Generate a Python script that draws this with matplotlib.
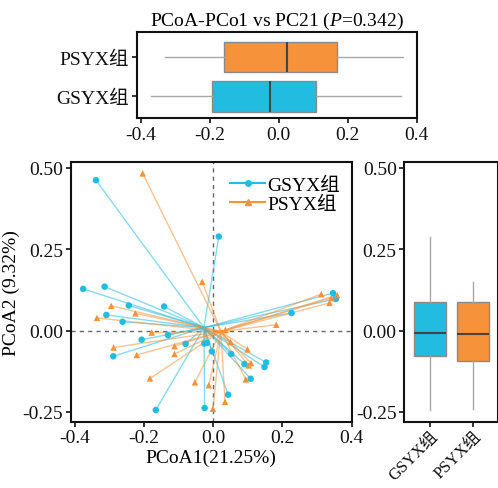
import matplotlib
matplotlib.use("Agg")
import matplotlib.pyplot as plt
from matplotlib.lines import Line2D

plt.rcParams['font.family'] = ['Liberation Serif', 'Noto Sans CJK SC']
plt.rcParams['axes.unicode_minus'] = True
plt.rcParams['mathtext.fontset'] = 'custom'
plt.rcParams['mathtext.rm'] = 'Liberation Serif'
plt.rcParams['mathtext.it'] = 'Liberation Serif:italic'

groups = ["GSYX组", "PSYX组"]
colors = {"GSYX组": "#22BCE0", "PSYX组": "#F5923A"}

gsyx_x = [-0.339, 0.016, -0.376, -0.314, -0.244, -0.142, -0.309, -0.262, 0.226, 0.346,
          0.354, -0.131, -0.207, -0.080, -0.289, -0.166, -0.025, -0.026, -0.018, -0.004,
          0.052, 0.090, 0.153, 0.148, 0.108, 0.043]
gsyx_y = [0.462, 0.289, 0.128, 0.135, 0.077, 0.074, 0.048, 0.027, 0.054, 0.115,
          0.097, -0.014, -0.028, -0.041, -0.079, -0.244, -0.238, -0.040, -0.038, -0.064,
          -0.072, -0.103, -0.098, -0.112, -0.148, -0.197]
psyx_x = [-0.204, -0.032, -0.295, -0.225, -0.336, 0.312, 0.358, 0.336, 0.341, 0.182,
          -0.178, -0.288, -0.221, -0.112, -0.112, -0.183, -0.053, -0.013, -0.001, 0.050,
          0.099, 0.109, 0.102, 0.094, 0.034, 0.035]
psyx_y = [0.483, 0.150, 0.076, 0.053, 0.039, 0.112, 0.109, 0.085, 0.100, 0.018,
          -0.006, -0.052, -0.075, -0.048, -0.072, -0.147, -0.159, -0.168, -0.240, -0.035,
          -0.058, -0.100, -0.107, -0.150, -0.219, 0.002]
centroid_gsyx = (-0.027, 0.009)
centroid_psyx = (0.022, -0.003)

# box statistics: whislo, q1, med, q3, whishi
pc1_box_gsyx = [-0.370, -0.195, -0.025, 0.107, 0.354]
pc1_box_psyx = [-0.331, -0.160, 0.025, 0.168, 0.361]
pc2_box_gsyx = [-0.245, -0.078, -0.007, 0.087, 0.286]
pc2_box_psyx = [-0.240, -0.095, -0.010, 0.089, 0.148]

title = "PCoA-PCo1 vs PC21 ($\\mathit{P}$=0.342)"
xlabel = "PCoA1(21.25%)"
ylabel = "PCoA2 (9.32%)"
xticks = [-0.4, -0.2, 0.0, 0.2, 0.4]
yticks = [-0.25, 0.0, 0.25, 0.5]

W, H = 498, 489
fig = plt.figure(figsize=(W / 100, H / 100), dpi=100)

def rect(l, t, r, b):
    return [l / W, 1 - b / H, (r - l) / W, (b - t) / H]

ax_top = fig.add_axes(rect(136.7, 33.3, 416.7, 119))
ax_sc = fig.add_axes(rect(70.7, 163.3, 351.7, 422.7))
ax_rb = fig.add_axes(rect(404.3, 163.3, 497.5, 422.7))

FS = 14
edge = "#8a8a8a"

def mkstats(v, label):
    return dict(whislo=v[0], q1=v[1], med=v[2], q3=v[3], whishi=v[4], fliers=[], label=label)

def style_ax(ax):
    for s in ax.spines.values():
        s.set_linewidth(1.5)
        s.set_color("#111111")
    ax.tick_params(labelsize=FS, width=1.2, length=3.5, colors="#111111", pad=2)

# top horizontal boxplot
stats_top = [mkstats(pc1_box_gsyx, groups[0]), mkstats(pc1_box_psyx, groups[1])]
bp = ax_top.bxp(stats_top, positions=[1, 2], widths=0.77, vert=False, patch_artist=True,
                showcaps=False,
                boxprops=dict(edgecolor=edge, linewidth=1.0),
                whiskerprops=dict(color="#a8a8a8", linewidth=1.0),
                medianprops=dict(color="#444444", linewidth=1.5))
for patch, g in zip(bp["boxes"], groups):
    patch.set_facecolor(colors[g])
ax_top.set_xlim(-0.412, 0.397)
ax_top.set_ylim(0.45, 2.63)
ax_top.set_xticks(xticks)
ax_top.set_xticklabels([f"{t:.1f}" for t in xticks])
ax_top.set_yticks([1, 2])
ax_top.set_yticklabels(groups)
ax_top.set_title(title, fontsize=FS, pad=5)
style_ax(ax_top)

# scatter with spider lines
ax_sc.axvline(0, color="#666666", linestyle=(0, (3, 3)), linewidth=1.0, zorder=0)
ax_sc.axhline(0, color="#666666", linestyle=(0, (3, 3)), linewidth=1.0, zorder=0)
for xs, ys, cen, g, mk in [(gsyx_x, gsyx_y, centroid_gsyx, groups[0], "o"),
                           (psyx_x, psyx_y, centroid_psyx, groups[1], "^")]:
    for x, y in zip(xs, ys):
        ax_sc.plot([cen[0], x], [cen[1], y], color=colors[g], linewidth=1.0, alpha=0.55, zorder=1)
    ax_sc.scatter(xs, ys, marker=mk, s=22, color=colors[g], edgecolors="none", zorder=3)
ax_sc.set_xlim(-0.412, 0.394)
ax_sc.set_ylim(-0.28, 0.517)
ax_sc.set_xticks(xticks)
ax_sc.set_xticklabels([f"{t:.1f}" for t in xticks])
ax_sc.set_yticks(yticks)
ax_sc.set_yticklabels([f"{t:.2f}" for t in yticks])
ax_sc.set_xlabel(xlabel, fontsize=FS, labelpad=2)
ax_sc.set_ylabel(ylabel, fontsize=FS, labelpad=2)
handles = [Line2D([], [], color=colors[groups[0]], marker="o", markersize=4, linewidth=1.5),
           Line2D([], [], color=colors[groups[1]], marker="^", markersize=4.5, linewidth=1.5)]
ax_sc.legend(handles, groups, loc="upper right", frameon=False, fontsize=FS,
             handlelength=1.8, handletextpad=0.1, labelspacing=0.05,
             borderaxespad=0.2, bbox_to_anchor=(1.0, 0.99))
style_ax(ax_sc)

# right vertical boxplot
stats_r = [mkstats(pc2_box_gsyx, groups[0]), mkstats(pc2_box_psyx, groups[1])]
bp2 = ax_rb.bxp(stats_r, positions=[0, 1], widths=0.75, patch_artist=True, showcaps=False,
                boxprops=dict(edgecolor=edge, linewidth=1.0),
                whiskerprops=dict(color="#a8a8a8", linewidth=1.0),
                medianprops=dict(color="#444444", linewidth=1.5))
for patch, g in zip(bp2["boxes"], groups):
    patch.set_facecolor(colors[g])
ax_rb.set_xlim(-0.61, 1.57)
ax_rb.set_ylim(-0.28, 0.517)
ax_rb.set_yticks(yticks)
ax_rb.set_yticklabels([f"{t:.2f}" for t in yticks])
ax_rb.set_xticks([0, 1])
ax_rb.set_xticklabels(groups, rotation=45, ha="right", rotation_mode="anchor", fontsize=12)
style_ax(ax_rb)
ax_rb.tick_params(axis="x", labelsize=12, pad=1)

fig.savefig("out.png", dpi=100)
